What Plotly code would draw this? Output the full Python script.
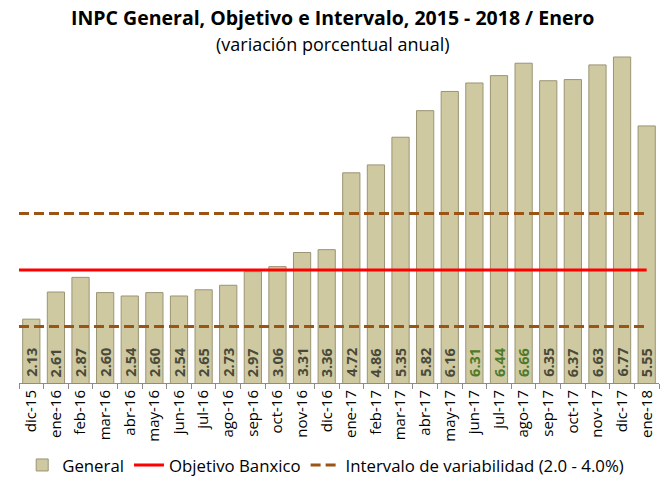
import plotly.graph_objects as go

categories = ["dic-15", "ene-16", "feb-16", "mar-16", "abr-16", "may-16", "jun-16",
              "jul-16", "ago-16", "sep-16", "oct-16", "nov-16", "dic-16", "ene-17",
              "feb-17", "mar-17", "abr-17", "may-17", "jun-17", "jul-17", "ago-17",
              "sep-17", "oct-17", "nov-17", "dic-17", "ene-18"]
general = [2.13, 2.61, 2.87, 2.60, 2.54, 2.60, 2.54, 2.65, 2.73, 2.97, 3.06, 3.31, 3.36,
           4.72, 4.86, 5.35, 5.82, 6.16, 6.31, 6.44, 6.66, 6.35, 6.37, 6.63, 6.77, 5.55]
label_colors = ["#4a4a3a"] * 18 + ["#4f7a28", "#4f7a28", "#4f7a28"] + ["#4a4a3a"] * 5
objetivo = 3.0
intervalo_bajo = 2.0
intervalo_alto = 4.0
y_min, y_max = 1.0, 7.0

n = len(categories)
xs = list(range(n))
line_x = [-0.5, n - 1]

FONT = "'Open Sans', sans-serif"

fig = go.Figure()
fig.add_trace(go.Bar(
    x=xs, y=general, name="General",
    marker=dict(color="#cfc9a2", line=dict(color="#9a9474", width=1)),
))
fig.add_trace(go.Scatter(
    x=line_x, y=[objetivo, objetivo], mode="lines", name="Objetivo Banxico",
    line=dict(color="#ff0000", width=3),
))
fig.add_trace(go.Scatter(
    x=line_x, y=[intervalo_bajo, intervalo_bajo], mode="lines",
    name="Intervalo de variabilidad (2.0 - 4.0%)", legendgroup="int",
    line=dict(color="#9c5414", width=3, dash="10px,5px"),
))
fig.add_trace(go.Scatter(
    x=line_x, y=[intervalo_alto, intervalo_alto], mode="lines",
    name="Intervalo de variabilidad (2.0 - 4.0%)", legendgroup="int", showlegend=False,
    line=dict(color="#9c5414", width=3, dash="10px,5px"),
))

annotations = [
    dict(text="<b>INPC General, Objetivo e Intervalo, 2015 - 2018 / Enero</b>",
         xref="paper", yref="paper", x=0.49, y=1.0, yshift=27, xanchor="center",
         yanchor="middle", showarrow=False, font=dict(size=19.5, family=FONT)),
    dict(text="(variación porcentual anual)",
         xref="paper", yref="paper", x=0.49, y=1.0, yshift=0, xanchor="center",
         yanchor="middle", showarrow=False, font=dict(size=18, family=FONT)),
]
for xi, v, c in zip(xs, general, label_colors):
    annotations.append(dict(
        text=f"<b>{v:.2f}</b>", x=xi, y=y_min, xref="x", yref="y",
        xanchor="center", yanchor="bottom", yshift=4, textangle=-90,
        showarrow=False, font=dict(size=14.5, color=c, family=FONT),
    ))

fig.update_layout(
    width=660, height=477,
    margin=dict(l=19, r=1, t=44, b=94, autoexpand=False),
    paper_bgcolor="white", plot_bgcolor="white",
    bargap=0.3,
    font=dict(family=FONT, color="#000000"),
    showlegend=True,
    legend=dict(orientation="h", x=0.005, xanchor="left", y=-0.242, yanchor="middle",
                font=dict(size=16.8), itemwidth=30, traceorder="normal"),
    annotations=annotations,
)
fig.update_xaxes(
    range=[-0.5, n - 0.5], tickmode="array", tickvals=xs, ticktext=categories,
    tickangle=-90, tickfont=dict(size=15, color="#000000"), ticks="",
    minor=dict(tick0=-0.5, dtick=1, ticks="outside", ticklen=5, tickcolor="#8c8c8c"),
    showline=True, linecolor="#8c8c8c", linewidth=1,
    showgrid=False, zeroline=False, automargin=False,
)
fig.update_yaxes(range=[y_min, y_max], showticklabels=False, showgrid=False,
                 zeroline=False, showline=False, automargin=False)

fig.write_html("out.html", post_script="document.body.style.margin='0';",
               config={"displayModeBar": False})
